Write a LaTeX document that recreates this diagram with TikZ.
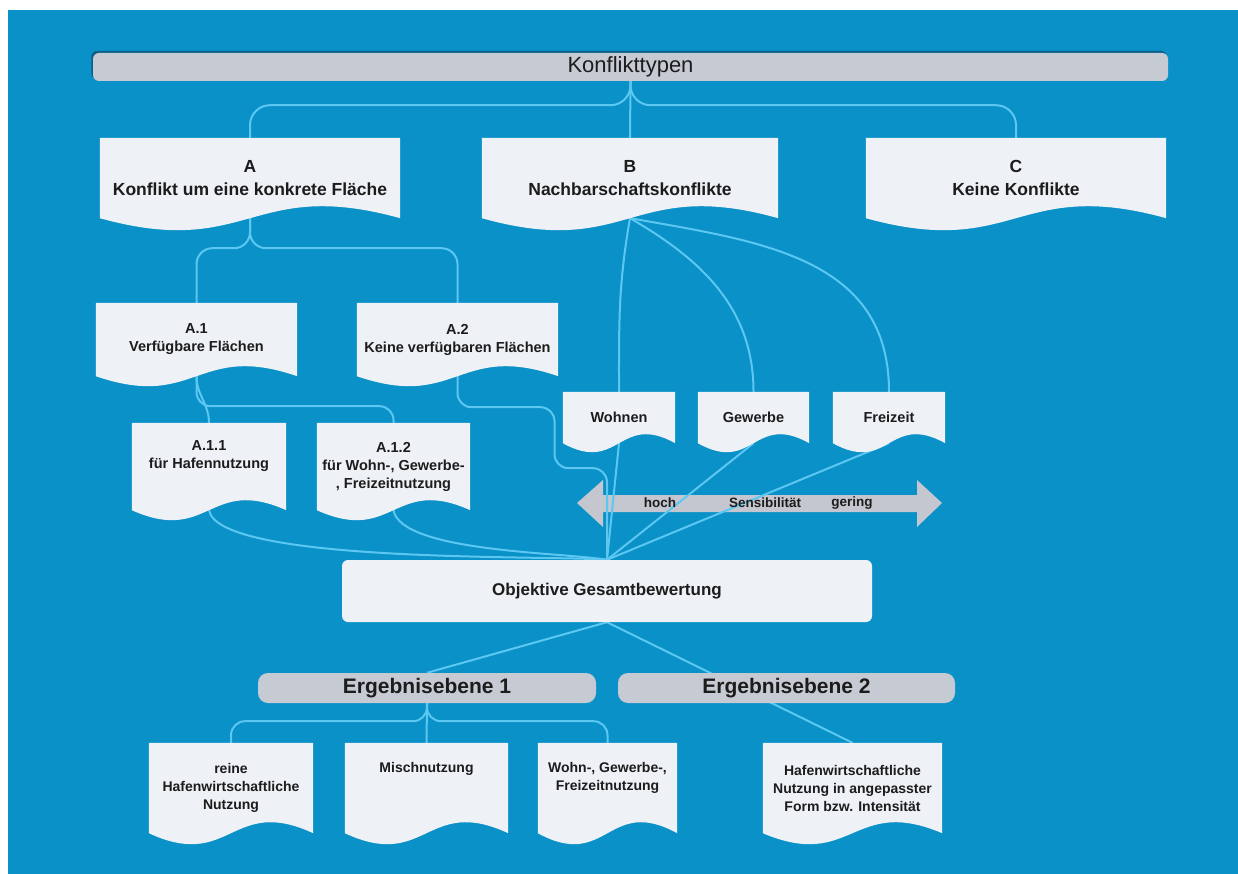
\documentclass[tikz,border=0pt]{standalone}
\usepackage{fontspec}
\setmainfont{Liberation Sans}
\usetikzlibrary{calc}

\definecolor{bgblue}{HTML}{0A91C8}
\definecolor{boxfill}{HTML}{EEF1F6}
\definecolor{barfill}{HTML}{C6CAD3}
\definecolor{barshade}{HTML}{0B5F88}
\definecolor{linec}{HTML}{5CC8F2}
\definecolor{arrfill}{HTML}{C4C7CF}
\definecolor{txt}{HTML}{1C1C1C}

\pgfdeclarelayer{bg}
\pgfdeclarelayer{boxes}
\pgfsetlayers{bg,boxes,main}

% box with wavy bottom edge under a named node
\newcommand{\wavebox}[2]{%
  \begin{pgfonlayer}{boxes}
    \fill[boxfill] (#1.north west) -- (#1.north east) -- (#1.south east)
      .. controls ($(#1.south)+(0,3.46*#2)$) and ($(#1.south)+(0,-3.46*#2)$) .. (#1.south west) -- cycle;
  \end{pgfonlayer}}

\begin{document}
\begin{tikzpicture}[x=1pt, y=1pt,
  doc/.style={rectangle, inner sep=0pt, align=center, text=txt, font=\bfseries\fontsize{14.5}{18}\selectfont},
  bigdoc/.style={doc, font=\bfseries\fontsize{17.5}{23}\selectfont},
  bar/.style={rectangle, fill=barfill, rounded corners=#1, inner sep=0pt, text=txt},
  bar/.default=6pt,
  conn/.style={draw=linec, line width=2pt},
  arrtxt/.style={text=txt, inner sep=0pt, font=\bfseries\fontsize{13.5}{16}\selectfont}]
	\useasboundingbox (0,0) rectangle (1238,-874);
	\begin{pgfonlayer}{bg}
		\fill[white] (0,0) rectangle (1238,-874);
		\fill[bgblue] (8,-10) rectangle (1238,-874);
		% Sensibilitaet arrow
		\fill[arrfill] (577,-503) -- (603,-480) -- (603,-495) -- (917,-495) -- (917,-480) -- (942,-503)
			-- (917,-527) -- (917,-512) -- (603,-512) -- (603,-527) -- cycle;
	\end{pgfonlayer}

	% Nodes:
	\node[bar, minimum width=1075pt, minimum height=28pt, font=\fontsize{22}{26}\selectfont] (kt) at (630.5,-67) {Konflikttypen};

	\node[bigdoc, minimum width=300pt, minimum height=80pt] (A) at (250,-178) {A\\Konflikt um eine konkrete Fläche};
	\node[bigdoc, minimum width=296pt, minimum height=80pt] (B) at (630,-178) {B\\Nachbarschaftskonflikte};
	\node[bigdoc, minimum width=300pt, minimum height=80pt] (C) at (1016,-178) {C\\Keine Konflikte};

	\node[doc, minimum width=201pt, minimum height=73pt] (A1) at (196.5,-339.5) {A.1\\Verfügbare Flächen};
	\node[doc, minimum width=201pt, minimum height=73pt] (A2) at (457.5,-339.5) {A.2\\Keine verfügbaren Flächen};
	\node[doc, minimum width=154pt, minimum height=87pt] (A11) at (209,-466.5) {A.1.1\\für Hafennutzung\\\strut};
	\node[doc, minimum width=153pt, minimum height=87pt] (A12) at (393.5,-466.5) {A.1.2\\für Wohn-, Gewerbe-\\, Freizeitnutzung};

	\node[doc, minimum width=112pt, minimum height=51pt] (wohnen) at (619,-417.5) {Wohnen};
	\node[doc, minimum width=111pt, minimum height=51pt] (gewerbe) at (753.5,-417.5) {Gewerbe};
	\node[doc, minimum width=112pt, minimum height=51pt] (freizeit) at (889,-417.5) {Freizeit};

	\node[arrtxt] (hoch) at (660,-503) {hoch};
	\node[arrtxt] (sens) at (765,-503) {Sensibilität};
	\node[arrtxt] (gering) at (852,-503) {gering};

	\node[bar, fill=boxfill, minimum width=530pt, minimum height=62pt, font=\bfseries\fontsize{17}{21}\selectfont] (obj) at (607,-591) {Objektive Gesamtbewertung};

	\node[bar=10pt, minimum width=338pt, minimum height=30pt, font=\bfseries\fontsize{21}{25}\selectfont] (erg1) at (427,-688) {Ergebnisebene 1};
	\node[bar=10pt, minimum width=337pt, minimum height=30pt, font=\bfseries\fontsize{21}{25}\selectfont] (erg2) at (786.5,-688) {Ergebnisebene 2};

	\node[doc, font=\bfseries\fontsize{14}{18}\selectfont, minimum width=164pt, minimum height=90pt] (reine) at (231,-788) {reine\\Hafenwirtschaftliche\\Nutzung};
	\node[doc, font=\bfseries\fontsize{14}{18}\selectfont, minimum width=163pt, minimum height=90pt] (misch) at (426.5,-788) {Mischnutzung\\\strut\\\strut};
	\node[doc, font=\bfseries\fontsize{14}{18}\selectfont, minimum width=139pt, minimum height=90pt] (wohn) at (607.5,-788) {Wohn-, Gewerbe-,\\Freizeitnutzung\\\strut};
	\node[doc, font=\bfseries\fontsize{14}{18}\selectfont, minimum width=179pt, minimum height=90pt] (hafen) at (852.5,-788) {Hafenwirtschaftliche\\Nutzung in angepasster\\Form bzw. Intensität};

	% wavy boxes
	\wavebox{A}{12} \wavebox{B}{12} \wavebox{C}{12}
	\wavebox{A1}{10} \wavebox{A2}{10} \wavebox{A11}{10} \wavebox{A12}{10}
	\wavebox{wohnen}{9} \wavebox{gewerbe}{9} \wavebox{freizeit}{9}
	\wavebox{reine}{11} \wavebox{misch}{11} \wavebox{wohn}{11} \wavebox{hafen}{11}

	% Connectors:
	\begin{pgfonlayer}{bg}
		\fill[barshade, rounded corners=6pt] ($(kt.north west)+(-1.5,2)$) rectangle ($(kt.south east)+(-1.5,2)$);
		\draw[conn, rounded corners=20pt] (kt.south) -- ++(0,-24) -| (A.north);
		\draw[conn] (kt.south) -- (B.north);
		\draw[conn, rounded corners=20pt] (kt.south) -- ++(0,-24) -| (C.north);

		\draw[conn, rounded corners=16pt] (A.south) -- ++(0,-30) -| (A1.north);
		\draw[conn, rounded corners=16pt] (A.south) -- ++(0,-30) -| (A2.north);
		\draw[conn] (A1.south) to[out=-90,in=90] (A11.north);
		\draw[conn, rounded corners=14pt] (A1.south) -- ++(0,-30) -| (A12.north);

		\draw[conn] (B.south) to[out=-100,in=90] (wohnen.north);
		\draw[conn] (B.south) to[out=-30,in=90] (gewerbe.north);
		\draw[conn] (B.south) to[out=-10,in=90,looseness=1.1] (freizeit.north);

		\draw[conn] (A11.south) to[out=-80,in=175,looseness=0.35] (obj.north);
		\draw[conn] (A12.south) to[out=-80,in=170,looseness=0.5] (obj.north);
		\draw[conn, rounded corners=14pt] (A2.south) -- ++(0,-31) -| ++(97,-61) -| (obj.north);
		\draw[conn] (wohnen.south) -- (obj.north);
		\draw[conn] (gewerbe.south) -- (obj.north);
		\draw[conn] (freizeit.south) -- (obj.north);

		\draw[conn] (obj.south) -- (erg1.north);
		\draw[conn] (obj.south) -- (hafen.north);

		\draw[conn, rounded corners=14pt] (erg1.south) -- ++(0,-18) -| (reine.north);
		\draw[conn] (erg1.south) -- (misch.north);
		\draw[conn, rounded corners=14pt] (erg1.south) -- ++(0,-18) -| (wohn.north);
	\end{pgfonlayer}
\end{tikzpicture}
\end{document}
